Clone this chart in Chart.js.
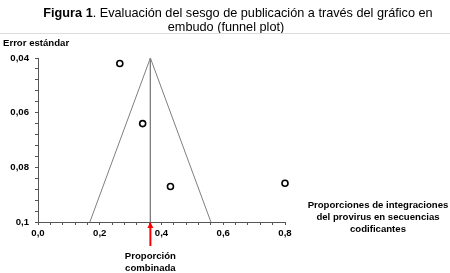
<!DOCTYPE html>
<html>
<head>
<meta charset="utf-8">
<script src="https://cdn.jsdelivr.net/npm/chart.js@4"></script>
<style>
  html, body { margin: 0; padding: 0; background: #fff; }
  #wrap { width: 450px; height: 273px; position: relative; }
</style>
</head>
<body>
<div id="wrap"><canvas id="funnel"></canvas></div>
<script>
// Datos
const estudiosProp = [0.265, 0.339, 0.429, 0.8];
const estudiosSE   = [0.042, 0.064, 0.087, 0.0858];
const proporcionCombinada = 0.364;
const embudoX = [0.168, 0.364, 0.56];
const embudoY = [0.1, 0.04, 0.1];
const ticksX = [0, 0.2, 0.4, 0.6, 0.8];
const ticksY = [0.04, 0.06, 0.08, 0.1];

const font = 'Arial, "Liberation Sans", sans-serif';
const fmt = (v, d) => v.toFixed(d).replace('.', ',');
const isMajor = (v, list) => list.some(t => Math.abs(t - v) < 1e-6);

const textos = {
    id: 'textos',
    afterDraw(chart) {
        const c = chart.ctx;
        const xs = chart.scales.x, ys = chart.scales.y;
        c.save();
        c.textBaseline = 'middle';
        c.fillStyle = '#000';
        // título: parte en negrita + resto normal
        const t1a = 'Figura 1', t1b = '. Evaluación del sesgo de publicación a través del gráfico en';
        c.font = 'bold 12.7px ' + font;
        const wA = c.measureText(t1a).width;
        c.font = '12.7px ' + font;
        const wB = c.measureText(t1b).width;
        const x0 = 238 - (wA + wB) / 2;
        c.textAlign = 'left';
        c.font = 'bold 12.7px ' + font;
        c.fillText(t1a, x0, 13);
        c.font = '12.7px ' + font;
        c.fillText(t1b, x0 + wA, 13);
        c.textAlign = 'center';
        c.fillText('embudo (funnel plot)', 226, 27);
        // línea gris bajo el título
        c.strokeStyle = '#dcdcdc';
        c.lineWidth = 1;
        c.beginPath(); c.moveTo(0, 33.5); c.lineTo(450, 33.5); c.stroke();

        c.font = 'bold 9.6px ' + font;
        c.textAlign = 'left';
        c.fillText('Error estándar', 3, 43);

        c.textAlign = 'center';
        c.fillText('Proporciones de integraciones', 378, 205);
        c.fillText('del provirus en secuencias', 378, 217);
        c.fillText('codificantes', 378, 229);

        // flecha roja hacia la proporción combinada
        const px = xs.getPixelForValue(proporcionCombinada);
        const py = ys.bottom;
        c.strokeStyle = '#ff0000';
        c.fillStyle = '#ff0000';
        c.lineWidth = 2;
        c.beginPath(); c.moveTo(px, py + 24); c.lineTo(px, py + 4); c.stroke();
        c.beginPath(); c.moveTo(px, py); c.lineTo(px - 3, py + 6); c.lineTo(px + 3, py + 6); c.closePath(); c.fill();

        c.fillStyle = '#000';
        c.fillText('Proporción', px, 256);
        c.fillText('combinada', px, 268);
        c.restore();
    }
};

new Chart(document.getElementById('funnel'), {
    type: 'scatter',
    data: {
        datasets: [
            {
                data: embudoX.map((x, i) => ({ x: x, y: embudoY[i] })),
                showLine: true, borderColor: '#7f7f7f', borderWidth: 1, pointRadius: 0, tension: 0
            },
            {
                data: [{ x: proporcionCombinada, y: ticksY[0] }, { x: proporcionCombinada, y: ticksY[ticksY.length - 1] }],
                showLine: true, borderColor: '#7f7f7f', borderWidth: 1, pointRadius: 0
            },
            {
                data: estudiosProp.map((x, i) => ({ x: x, y: estudiosSE[i] })),
                pointRadius: 3, pointBorderWidth: 1.6, borderColor: '#000', backgroundColor: '#fff',
                pointBackgroundColor: '#fff', pointBorderColor: '#000', clip: false
            }
        ]
    },
    options: {
        responsive: true,
        maintainAspectRatio: false,
        animation: false,
        layout: { padding: { left: 0, right: 165, top: 58, bottom: 0 } },
        plugins: { legend: { display: false }, tooltip: { enabled: false }, title: { display: false } },
        scales: {
            x: {
                type: 'linear', min: 0, max: 0.8,
                afterFit: s => { s.height = 51; },
                border: { display: true, color: '#555', width: 1 },
                grid: { display: true, drawOnChartArea: false, tickLength: 3, tickColor: '#555' },
                ticks: {
                    stepSize: 0.04, autoSkip: false, maxRotation: 0, padding: 3,
                    color: '#000', font: { family: font, size: 9.6, weight: 'bold' },
                    callback: v => isMajor(v, ticksX) ? fmt(v, 1) : ''
                }
            },
            y: {
                type: 'linear', min: 0.04, max: 0.1, reverse: true,
                afterFit: s => { s.width = 38; },
                border: { display: true, color: '#555', width: 1 },
                grid: { display: true, drawOnChartArea: false, tickLength: 3, tickColor: '#555' },
                ticks: {
                    stepSize: 0.004, autoSkip: false, padding: 6,
                    color: '#000', font: { family: font, size: 9.6, weight: 'bold' },
                    callback: v => isMajor(v, ticksY) ? (Math.abs(v - 0.1) < 1e-6 ? '0,1' : fmt(v, 2)) : ''
                }
            }
        }
    },
    plugins: [textos]
});
</script>
</body>
</html>
